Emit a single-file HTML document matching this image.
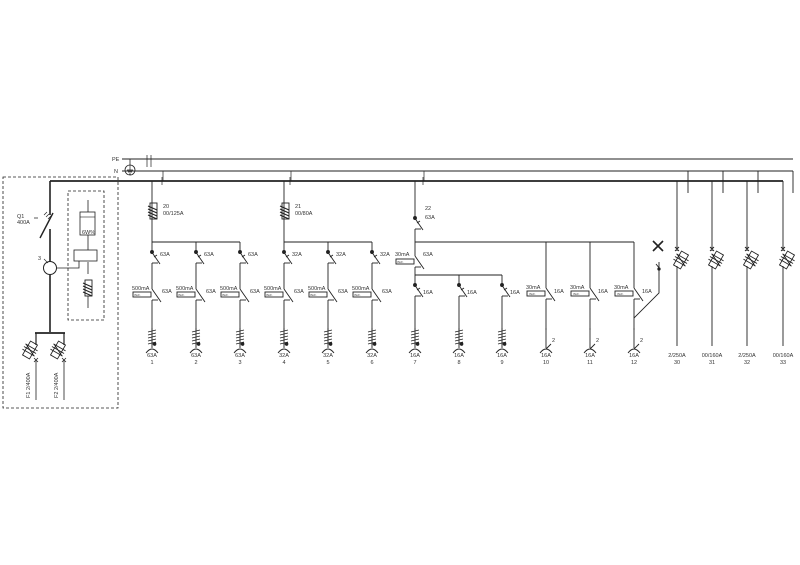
<!DOCTYPE html>
<html><head><meta charset="utf-8"><style>
html,body{margin:0;padding:0;background:#fff}
svg{display:block}
text{font-family:"Liberation Sans",sans-serif;font-size:5.5px;fill:#333}
</style></head><body>
<svg width="800" height="565" viewBox="0 0 800 565" xmlns="http://www.w3.org/2000/svg">
<defs>
<g id="brk" stroke="#222" stroke-width="0.9" fill="none">
<line x1="0" y1="0" x2="0" y2="9"/>
<line x1="-1" y1="9" x2="8" y2="22"/>
<line x1="0" y1="21" x2="6" y2="21"/>
<line x1="0" y1="21" x2="0" y2="24"/>
<circle cx="0" cy="10" r="1.5" fill="#222"/>
<line x1="2" y1="15" x2="5" y2="13"/>
</g>
<g id="rcd" stroke="#222" stroke-width="0.9" fill="none">
<line x1="0" y1="0" x2="0" y2="6"/>
<line x1="0" y1="6" x2="9" y2="19"/>
<line x1="0" y1="17" x2="6" y2="17"/>
<line x1="0" y1="17" x2="0" y2="20"/>
<rect x="-19" y="9" width="18" height="5"/>
</g>
<g id="sock" stroke="#222" stroke-width="0.9" fill="none">
<line x1="0" y1="0" x2="0" y2="20"/>
<path d="M-4,4 L4,2 M-4,7 L4,5 M-4,10 L4,8 M-4,13 L4,11 M-4,16 L4,14"/>
<circle cx="2.5" cy="16" r="1.4" fill="#222"/>
<path d="M-6,25 Q0,17 6,25"/>
</g>
<g id="sock2" stroke="#222" stroke-width="0.9" fill="none">
<line x1="0" y1="0" x2="0" y2="20"/>
<line x1="0" y1="21" x2="5" y2="16"/>
<path d="M-6,25 Q0,17 6,25"/>
</g>
<g id="fuse" stroke="#222" stroke-width="0.9" fill="none">
<rect x="-2" y="-8" width="7" height="16"/>
<path d="M-4,-5 L5,-1 M-4,-2 L5,2 M-4,1 L5,5 M-4,4 L5,8" stroke-width="1.1"/>
</g>
<g id="fsw" stroke="#222" stroke-width="0.9" fill="none">
<g transform="rotate(30)">
<rect x="-4" y="-8" width="8" height="16"/>
<path d="M-7,-3 L7,-3 M-7,0 L7,0 M-7,3 L7,3"/>
</g>
<path d="M-4,-6 L4,6"/>
</g>
</defs>
<g stroke="#222" fill="none">
<line x1="122" y1="159" x2="793" y2="159" stroke-width="0.9"/>
<line x1="122" y1="171" x2="793" y2="171" stroke-width="0.9"/>
<circle cx="130" cy="170" r="5" stroke-width="0.8"/>
<path d="M127,170 h6 M128,172 h4 M129,174 h2 M130,165 v5" stroke-width="0.7"/>
<line x1="130" y1="159" x2="130" y2="165" stroke-width="0.8"/>
<path d="M147,155 v12 M151,155 v12" stroke-width="0.7"/>
<line x1="50" y1="181" x2="783" y2="181" stroke-width="1.8"/>
<path d="M688,171 v22 M723,171 v22 M758,171 v22 M793,171 v22" stroke-width="0.9"/>
<path d="M163,171 v10 M291,171 v10 M424,171 v10 M162,177 v8 M290,177 v8 M423,177 v8" stroke-width="0.7"/>
<rect x="3" y="177" width="115" height="231" stroke-dasharray="3,2" stroke-width="0.8"/>
<rect x="68" y="191" width="36" height="129" stroke-dasharray="3,2" stroke-width="0.8"/>
<line x1="50" y1="181" x2="50" y2="215" stroke-width="1.6"/>
<line x1="40" y1="238" x2="53" y2="213" stroke-width="1.4"/>
<path d="M34,218 h4 M44,215 l3,-3 M46,217 l3,-3 M48,219 l3,-3" stroke-width="0.7"/>
<line x1="50" y1="229" x2="50" y2="262" stroke-width="1.6"/>
<circle cx="50" cy="268" r="6.5" stroke-width="1"/>
<line x1="44" y1="259" x2="48" y2="263" stroke-width="0.6"/>
<line x1="50" y1="275" x2="50" y2="332" stroke-width="1.6"/>
<line x1="35" y1="333" x2="65" y2="333" stroke-width="1.8"/>
<line x1="36" y1="333" x2="36" y2="345" stroke-width="1.2"/>
<line x1="64" y1="333" x2="64" y2="345" stroke-width="1.2"/>
<use href="#fsw" x="30" y="350"/>
<use href="#fsw" x="58" y="350"/>
<path d="M36,360 v40 M64,360 v40" stroke-width="0.8"/>
<path d="M34,358 l4,4 M38,358 l-4,4 M62,358 l4,4 M66,358 l-4,4" stroke-width="0.8"/>
<path d="M88,200 v12 M88,235 v15 M88,262 v12 M88,296 v12" stroke-width="0.8"/>
<rect x="80" y="212" width="15" height="23" stroke-width="0.8"/>
<line x1="80" y1="217" x2="95" y2="217" stroke-width="0.6"/>
<rect x="74" y="250" width="23" height="11" stroke-width="0.8"/>
<path d="M57,268 h22 v-7" stroke-width="0.8"/>
<use href="#fuse" x="87" y="288"/>
<line x1="152" y1="181" x2="152" y2="242" stroke-width="0.9"/>
<use href="#fuse" x="152" y="211"/>
<line x1="152" y1="242" x2="240" y2="242" stroke-width="0.9"/>
<line x1="284" y1="181" x2="284" y2="242" stroke-width="0.9"/>
<use href="#fuse" x="284" y="211"/>
<line x1="284" y1="242" x2="372" y2="242" stroke-width="0.9"/>
</g>
<use href="#brk" x="152" y="242"/><use href="#brk" x="196" y="242"/><use href="#brk" x="240" y="242"/>
<use href="#brk" x="284" y="242"/><use href="#brk" x="328" y="242"/><use href="#brk" x="372" y="242"/>
<g stroke="#222" stroke-width="0.9"><path d="M152,266v17 M196,266v17 M240,266v17 M284,266v17 M328,266v17 M372,266v17 M152,303v27 M196,303v27 M240,303v27 M284,303v27 M328,303v27 M372,303v27"/></g>
<use href="#rcd" x="152" y="283"/><use href="#rcd" x="196" y="283"/><use href="#rcd" x="240" y="283"/>
<use href="#rcd" x="284" y="283"/><use href="#rcd" x="328" y="283"/><use href="#rcd" x="372" y="283"/>
<use href="#sock" x="152" y="328"/><use href="#sock" x="196" y="328"/><use href="#sock" x="240" y="328"/>
<use href="#sock" x="284" y="328"/><use href="#sock" x="328" y="328"/><use href="#sock" x="372" y="328"/>
<g stroke="#222" stroke-width="0.9" fill="none">
<line x1="415" y1="181" x2="415" y2="208"/>
<line x1="415" y1="232" x2="415" y2="250"/>
<line x1="415" y1="242" x2="634" y2="242"/>
<line x1="415" y1="270" x2="415" y2="275"/>
<line x1="415" y1="275" x2="502" y2="275"/>
<path d="M546,242v40 M590,242v40 M634,242v40"/>
<path d="M415,299v31 M459,299v31 M502,299v31 M546,302v28 M590,302v28 M634,302v28"/>
<path d="M659,262 v31 L634,318"/>
<path d="M653,241 l10,10 M663,241 l-10,10" stroke-width="1.6"/>
<path d="M656,264 l4,5" />
<circle cx="659" cy="269" r="1.2" fill="#222"/>
<path d="M677,181 v70 M677,266 v80 M712,181 v70 M712,266 v80 M747,181 v70 M747,266 v80 M783,181 v70 M783,266 v80"/>
<path d="M675,247 l4,4 M679,247 l-4,4 M710,247 l4,4 M714,247 l-4,4 M745,247 l4,4 M749,247 l-4,4 M781,247 l4,4 M785,247 l-4,4"/>
</g>
<use href="#brk" x="415" y="208"/>
<use href="#rcd" x="415" y="250"/>
<use href="#brk" x="415" y="275"/><use href="#brk" x="459" y="275"/><use href="#brk" x="502" y="275"/>
<use href="#rcd" x="546" y="282"/><use href="#rcd" x="590" y="282"/><use href="#rcd" x="634" y="282"/>
<use href="#sock" x="415" y="328"/><use href="#sock" x="459" y="328"/><use href="#sock" x="502" y="328"/>
<use href="#sock2" x="546" y="328"/><use href="#sock2" x="590" y="328"/><use href="#sock2" x="634" y="328"/>
<use href="#fsw" x="681" y="260"/><use href="#fsw" x="716" y="260"/><use href="#fsw" x="751" y="260"/><use href="#fsw" x="787" y="260"/>
<text x="112" y="161">PE</text><text x="114" y="173">N</text>
<text x="17" y="218">Q1</text><text x="17" y="224">400A</text>
<text x="38" y="260">3</text>
<text x="82" y="234" font-size="5">6W%</text>
<text transform="translate(30,398) rotate(-90)">F1 2/400A</text>
<text transform="translate(58,398) rotate(-90)">F2 2/400A</text>
<text x="163" y="208">20</text><text x="163" y="215">00/125A</text>
<text x="295" y="208">21</text><text x="295" y="215">00/80A</text>
<text x="425" y="210">22</text><text x="425" y="219">63A</text>
<text x="160" y="256">63A</text><text x="204" y="256">63A</text><text x="248" y="256">63A</text>
<text x="292" y="256">32A</text><text x="336" y="256">32A</text><text x="380" y="256">32A</text>
<g>
<text x="132" y="290">500mA</text><text x="176" y="290">500mA</text><text x="220" y="290">500mA</text>
<text x="264" y="290">500mA</text><text x="308" y="290">500mA</text><text x="352" y="290">500mA</text>
<text x="162" y="293">63A</text><text x="206" y="293">63A</text><text x="250" y="293">63A</text>
<text x="294" y="293">63A</text><text x="338" y="293">63A</text><text x="382" y="293">63A</text>
<text x="395" y="256">30mA</text><text x="423" y="256">63A</text>
<text x="526" y="289">30mA</text><text x="570" y="289">30mA</text><text x="614" y="289">30mA</text>
<text x="554" y="293">16A</text><text x="598" y="293">16A</text><text x="642" y="293">16A</text>
<text x="423" y="294">16A</text><text x="467" y="294">16A</text><text x="510" y="294">16A</text>
</g>
<g>
<text x="134" y="296" style="font-size:3px">INd&gt;</text><text x="178" y="296" style="font-size:3px">INd&gt;</text><text x="222" y="296" style="font-size:3px">INd&gt;</text>
<text x="266" y="296" style="font-size:3px">INd&gt;</text><text x="310" y="296" style="font-size:3px">INd&gt;</text><text x="354" y="296" style="font-size:3px">INd&gt;</text>
<text x="397" y="263" style="font-size:3px">INd&gt;</text><text x="529" y="295" style="font-size:3px">INd&gt;</text><text x="573" y="295" style="font-size:3px">INd&gt;</text><text x="617" y="295" style="font-size:3px">INd&gt;</text>
</g>
<g text-anchor="middle">
<text x="152" y="357">63A</text><text x="196" y="357">63A</text><text x="240" y="357">63A</text>
<text x="284" y="357">32A</text><text x="328" y="357">32A</text><text x="372" y="357">32A</text>
<text x="415" y="357">16A</text><text x="459" y="357">16A</text><text x="502" y="357">16A</text>
<text x="546" y="357">16A</text><text x="590" y="357">16A</text><text x="634" y="357">16A</text>
<text x="152" y="364">1</text><text x="196" y="364">2</text><text x="240" y="364">3</text>
<text x="284" y="364">4</text><text x="328" y="364">5</text><text x="372" y="364">6</text>
<text x="415" y="364">7</text><text x="459" y="364">8</text><text x="502" y="364">9</text>
<text x="546" y="364">10</text><text x="590" y="364">11</text><text x="634" y="364">12</text>
<text x="677" y="357">2/250A</text><text x="712" y="357">00/160A</text><text x="747" y="357">2/250A</text><text x="783" y="357">00/160A</text>
<text x="677" y="364">30</text><text x="712" y="364">31</text><text x="747" y="364">32</text><text x="783" y="364">33</text>
</g>
<text x="552" y="342">2</text><text x="596" y="342">2</text><text x="640" y="342">2</text>
</svg>
</body></html>
